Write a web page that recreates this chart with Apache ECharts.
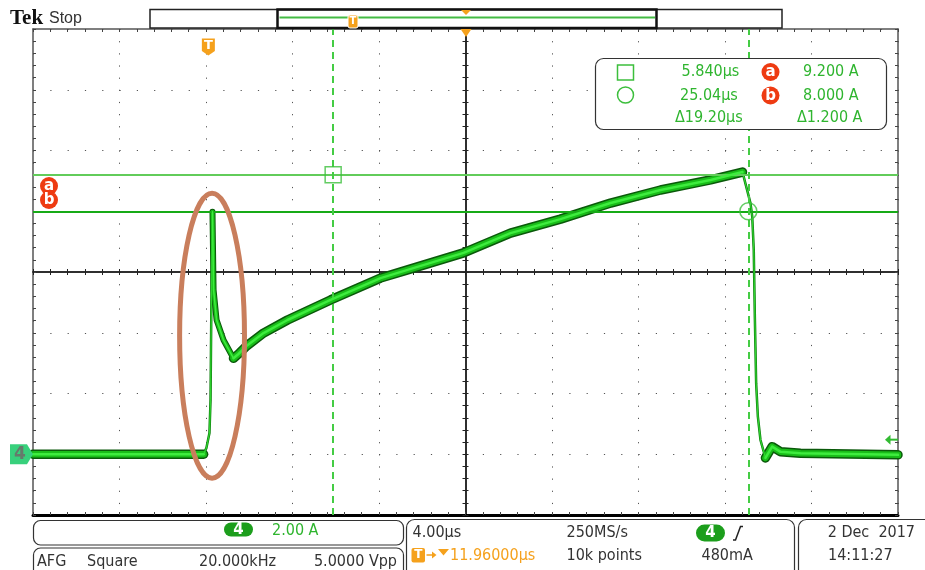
<!DOCTYPE html>
<html>
<head>
<meta charset="utf-8">
<script src="https://cdn.jsdelivr.net/npm/echarts@6/dist/echarts.min.js"></script>
<style>
html,body{margin:0;padding:0;background:#fff;}
#c{width:925px;height:570px;}
</style>
</head>
<body>
<div id="c"></div>
<script>
// ================= DATA =================
// time in µs relative to screen centre (4.00 µs/div), current in A (2.00 A/div)
const timeRange = [-20, 20];
const timeDiv = 4;
const ampRange = [-2, 14];
const ampDiv = 2;
const triggerTime = -11.96;      // trigger point (T marker)
const triggerLevel = 0.48;       // 480mA
const groundLevel = 0;           // channel 4 reference

// waveform segments [time µs, current A]
const traceFlatBefore = [[-20, 0.0], [-16, 0.0], [-12.11, 0.0]];
const traceRiseEdge = [[-12.11, 0.0], [-11.98, 0.21], [-11.84, 0.70], [-11.79, 1.79], [-11.75, 5.08], [-11.70, 7.98]];
const traceSpikeDecay = [[-11.70, 7.98], [-11.65, 5.41], [-11.51, 4.42], [-11.19, 3.76], [-10.73, 3.16]];
const traceRamp = [[-10.73, 3.16], [-10.50, 3.30], [-10.13, 3.56], [-9.34, 3.99], [-8.23, 4.42], [-6.24, 5.08],
                   [-3.93, 5.80], [-2.68, 6.07], [-0.09, 6.63], [2.08, 7.28], [4.39, 7.74], [6.71, 8.27],
                   [9.02, 8.70], [11.33, 9.03], [12.81, 9.29]];
const traceFallEdge = [[12.81, 9.29], [13.18, 8.26], [13.26, 7.82], [13.33, 6.72], [13.38, 4.53], [13.44, 2.34],
                       [13.52, 1.24], [13.64, 0.47], [13.87, -0.12]];
const traceFlatAfter = [[13.87, -0.12], [14.18, 0.25], [14.57, 0.08], [15.49, 0.03], [20, -0.02]];

// cursors
const cursorTimes = [-6.12, 13.08];          // screen time of cursor 1 / 2
const cursorAmps = [9.2, 8.0];               // cursor a / b
const readoutTimes = ['5.840µs', '25.04µs', 'Δ19.20µs'];
const readoutAmps = ['9.200 A', '8.000 A', 'Δ1.200 A'];

// info bar texts
const chanScale = '2.00 A';
const afgTexts = ['AFG', 'Square', '20.000kHz', '5.0000 Vpp'];
const horizTexts = ['4.00µs', '250MS/s', '11.96000µs', '10k points', '480mA'];
const dateTexts = ['2 Dec  2017', '14:11:27'];

// ================= CHART =================
const FONT = '"DejaVu Sans Condensed", "DejaVu Sans", sans-serif';
const GREEN_TXT = '#2fb52f';
const ORANGE = '#f5a11c';
const RED = '#ee3b12';

const tickStyle = {color: '#444', width: 1};
function borderX(pos, lineStyle, split) {
  return {
    type: 'value', min: timeRange[0], max: timeRange[1], interval: timeDiv, position: pos,
    axisLine: {show: true, onZero: false, lineStyle},
    axisTick: {show: true, inside: true, length: 3, lineStyle: tickStyle},
    minorTick: {show: true, splitNumber: 5, length: 3, lineStyle: tickStyle},
    axisLabel: {show: false},
    splitLine: {show: split, lineStyle: {color: '#555', width: 1, type: [1.2, 10.95]}},
    minorSplitLine: {show: false}
  };
}
function borderY(pos, lineStyle, split) {
  return {
    type: 'value', min: ampRange[0], max: ampRange[1], interval: ampDiv, position: pos,
    axisLine: {show: true, onZero: false, lineStyle},
    axisTick: {show: true, inside: true, length: 3, lineStyle: tickStyle},
    minorTick: {show: true, splitNumber: 5, length: 3, lineStyle: tickStyle},
    axisLabel: {show: false},
    splitLine: {show: split, lineStyle: {color: '#555', width: 1, type: [1.2, 16.1]}},
    minorSplitLine: {show: false}
  };
}
function centerX(inside) {
  return {
    type: 'value', min: timeRange[0], max: timeRange[1], interval: timeDiv, position: 'bottom',
    axisLine: {show: true, onZero: true, onZeroAxisIndex: 2, lineStyle: {color: '#222', width: 1.5}},
    axisTick: {show: true, inside, length: 3, lineStyle: {color: '#222', width: 1}},
    minorTick: {show: true, splitNumber: 5, length: 3, lineStyle: {color: '#222', width: 1}},
    axisLabel: {show: false}, splitLine: {show: false}
  };
}
function centerY(inside) {
  return {
    type: 'value', min: ampRange[0], max: ampRange[1], interval: ampDiv, position: 'left',
    axisLine: {show: true, onZero: true, onZeroAxisIndex: 0, lineStyle: {color: '#222', width: 1.5}},
    axisTick: {show: true, inside, length: 3, lineStyle: {color: '#222', width: 1}},
    minorTick: {show: true, splitNumber: 5, length: 3, lineStyle: {color: '#222', width: 1}},
    axisLabel: {show: false}, splitLine: {show: false}
  };
}

function seg(data, width, color, z) {
  return {
    type: 'line', data, xAxisIndex: 0, yAxisIndex: 0, symbol: 'none', silent: true,
    animation: false, z, lineStyle: {width, color, cap: 'round', join: 'round'}
  };
}

const series = [];
[traceFlatBefore, traceRamp, traceFlatAfter].forEach(d => {
  series.push(seg(d, 9.5, '#0a590a', 3));
  series.push(seg(d, 6.5, '#19bd19', 4));
  series.push(seg(d, 2.5, '#3eec3e', 5));
});
[traceSpikeDecay].forEach(d => {
  series.push(seg(d, 6, '#0a590a', 3));
  series.push(seg(d, 4, '#19bd19', 4));
  series.push(seg(d, 1.5, '#3eec3e', 5));
});
[traceRiseEdge, traceFallEdge].forEach(d => {
  series.push(seg(d, 2.5, '#0e7e0e', 3));
  series.push(seg(d, 1.2, '#2fd42f', 4));
});
// cursor lines
series.push({
  type: 'line', data: [], xAxisIndex: 0, yAxisIndex: 0, silent: true, animation: false, z: 1,
  markLine: {
    silent: true, animation: false, symbol: ['none', 'none'], label: {show: false},
    emphasis: {disabled: true},
    data: [
      {yAxis: cursorAmps[0], lineStyle: {color: '#62cc5a', width: 2, type: 'solid'}},
      {yAxis: cursorAmps[1], lineStyle: {color: '#17aa17', width: 2, type: 'solid'}},
      {xAxis: cursorTimes[0], lineStyle: {color: '#44cc44', width: 2, type: [7, 5]}},
      {xAxis: cursorTimes[1], lineStyle: {color: '#44cc44', width: 2, type: [7, 5]}}
    ]
  }
});
// cursor symbols
series.push({
  type: 'scatter', xAxisIndex: 0, yAxisIndex: 0, silent: true, animation: false, z: 6,
  data: [[cursorTimes[0], cursorAmps[0]]], symbol: 'rect', symbolSize: [16, 16],
  itemStyle: {color: 'rgba(0,0,0,0)', borderColor: '#3cbf3c', borderWidth: 1.5}
});
series.push({
  type: 'scatter', xAxisIndex: 0, yAxisIndex: 0, silent: true, animation: false, z: 6,
  data: [[cursorTimes[1], cursorAmps[1]]], symbol: 'circle', symbolSize: 17,
  itemStyle: {color: 'rgba(0,0,0,0)', borderColor: '#3cbf3c', borderWidth: 1.5}
});

const option = {
  animation: false,
  backgroundColor: '#fff',
  grid: {left: 33, top: 29, width: 865, height: 486, containLabel: false},
  xAxis: [
    borderX('bottom', {color: '#000', width: 3}, true),
    borderX('top', {color: '#555', width: 1.5}, false),
    centerX(true),
    centerX(false)
  ],
  yAxis: [
    borderY('left', {color: '#555', width: 1.5}, true),
    borderY('right', {color: '#555', width: 1.5}, false),
    {type: 'value', min: -8, max: 8, show: false, position: 'left'},
    centerY(true),
    centerY(false)
  ],
  series
};

const chart = echarts.init(document.getElementById('c'), null, {renderer: 'canvas'});
chart.setOption(option);

const px = (t, a) => chart.convertToPixel({gridIndex: 0}, [t, a]);

function txt(x, y, text, size, fill, align, weight, family) {
  return {
    type: 'text', x, y, z: 100,
    style: {
      text, fill, font: (weight || 'normal') + ' ' + size + 'px ' + (family || FONT),
      align: align || 'left', textAlign: align || 'left',
      verticalAlign: 'middle', textVerticalAlign: 'middle'
    }
  };
}
function badge(cx, cy, letter) {
  return [
    {type: 'circle', z: 100, shape: {cx, cy, r: 9}, style: {fill: RED}},
    txt(cx, cy + 0.5, letter, 15, '#fff', 'center', 'bold', '"DejaVu Sans", sans-serif')
  ];
}
function pill(x, y, w, h, label) {
  return [
    {type: 'rect', z: 100, shape: {x, y, width: w, height: h, r: h / 2}, style: {fill: '#1c9e1c'}},
    txt(x + w / 2, y + h / 2 + 0.5, label, 15, '#fff', 'center', 'bold', '"DejaVu Sans", sans-serif')
  ];
}
function box(x, y, w, h, r) {
  return {type: 'rect', z: 90, shape: {x, y, width: w, height: h, r}, style: {fill: '#fff', stroke: '#333', lineWidth: 1.2}};
}

const g = [];
// header
g.push(txt(10, 19, 'Tek', 21, '#111', 'left', 'bold', '"Liberation Serif", serif'));
g.push(txt(49, 19, 'Stop', 16, '#333', 'left', 'normal', '"Liberation Sans", sans-serif'));
// record view bar
g.push({type: 'rect', z: 90, shape: {x: 150, y: 9.5, width: 632, height: 18.5}, style: {fill: '#fff', stroke: '#222', lineWidth: 1.5}});
g.push({type: 'rect', z: 91, shape: {x: 277.5, y: 9.5, width: 379, height: 18.5}, style: {fill: 'none', stroke: '#111', lineWidth: 2.5}});
g.push({type: 'line', z: 92, shape: {x1: 279.5, y1: 17.5, x2: 655, y2: 17.5}, style: {stroke: '#44bb44', lineWidth: 2}});
g.push({type: 'rect', z: 93, shape: {x: 348, y: 15, width: 10, height: 13, r: 2}, style: {fill: ORANGE, stroke: '#fff', lineWidth: 1}});
g.push(txt(353, 21.5, 'T', 10, '#fff', 'center', 'bold', '"DejaVu Sans", sans-serif'));
const cTop = px(0, ampRange[1]);
g.push({type: 'polygon', z: 93, shape: {points: [[cTop[0] - 4.5, 10], [cTop[0] + 5.5, 10], [cTop[0] + 0.5, 15]]}, style: {fill: ORANGE}});
// centre (horizontal position) marker on plot top
g.push({type: 'polygon', z: 100, shape: {points: [[cTop[0] - 5, cTop[1]], [cTop[0] + 6, cTop[1]], [cTop[0] + 0.5, cTop[1] + 8]]}, style: {fill: ORANGE}});
// trigger position marker
const tp = px(triggerTime, ampRange[1]);
const tx = tp[0] + 1.5;
g.push({type: 'polygon', z: 100, shape: {points: [[tx - 6.5, 38.5], [tx + 6.5, 38.5], [tx + 6.5, 51], [tx, 55.5], [tx - 6.5, 51]]}, style: {fill: ORANGE}});
g.push(txt(tx, 46, 'T', 13, '#fff', 'center', 'bold', '"DejaVu Sans", sans-serif'));
// channel 4 reference marker
const gy = px(timeRange[0], groundLevel)[1];
g.push({type: 'polygon', z: 100, shape: {points: [[10, gy - 10], [27, gy - 10], [33, gy], [27, gy + 10], [10, gy + 10]], smooth: 0}, style: {fill: '#38d07c'}});
g.push(txt(20, gy, '4', 17, '#667a6c', 'center', 'bold', '"DejaVu Sans", sans-serif'));
// trigger level arrow
const ty = px(timeRange[1], triggerLevel)[1];
g.push({type: 'polygon', z: 100, shape: {points: [[885, ty], [890.5, ty - 5], [890.5, ty + 5]]}, style: {fill: '#33bb33'}});
g.push({type: 'line', z: 100, shape: {x1: 889, y1: ty, x2: 898, y2: ty}, style: {stroke: '#33bb33', lineWidth: 2}});
// cursor badges on the left
g.push(...badge(49, 186, 'a'));
g.push(...badge(49, 200, 'b'));
// highlight ellipse around the turn-on spike
const ellC = px(-11.72, 3.90);
const ellE = px(-11.72 + 1.50, 3.90 + 4.69);
g.push({type: 'ellipse', z: 100, shape: {cx: ellC[0], cy: ellC[1], rx: Math.abs(ellE[0] - ellC[0]), ry: Math.abs(ellE[1] - ellC[1])},
        style: {fill: 'none', stroke: '#c97e5c', lineWidth: 5}});
// measurement readout box
g.push({type: 'rect', z: 95, shape: {x: 595.5, y: 58.5, width: 291, height: 71, r: 8}, style: {fill: '#fff', stroke: '#333', lineWidth: 1.2}});
g.push({type: 'rect', z: 100, shape: {x: 617.5, y: 65, width: 16, height: 15}, style: {fill: 'none', stroke: '#3cbf3c', lineWidth: 1.5}});
g.push({type: 'circle', z: 100, shape: {cx: 625.5, cy: 95, r: 8}, style: {fill: 'none', stroke: '#3cbf3c', lineWidth: 1.5}});
g.push(txt(681.5, 72, readoutTimes[0], 16, GREEN_TXT));
g.push(txt(680, 95.5, readoutTimes[1], 16, GREEN_TXT));
g.push(txt(675, 117.5, readoutTimes[2], 16, GREEN_TXT));
g.push(...badge(770.5, 72, 'a'));
g.push(...badge(770.5, 95.5, 'b'));
g.push(txt(803, 72, readoutAmps[0], 16, GREEN_TXT));
g.push(txt(803, 95.5, readoutAmps[1], 16, GREEN_TXT));
g.push(txt(797, 117.5, readoutAmps[2], 16, GREEN_TXT));
// bottom info boxes
g.push(box(33.5, 520.5, 370, 24.5, 7));
g.push(...pill(224, 522.5, 29, 14, '4'));
g.push(txt(272, 530.5, chanScale, 16, GREEN_TXT));
g.push(box(33.5, 548, 370, 30, 7));
g.push(txt(37, 561.5, afgTexts[0], 16, '#333'));
g.push(txt(87, 561.5, afgTexts[1], 16, '#333'));
g.push(txt(199, 561.5, afgTexts[2], 16, '#333'));
g.push(txt(397, 561.5, afgTexts[3], 16, '#333', 'right'));
g.push(box(406.5, 519.5, 388, 60, 8));
g.push(txt(412.5, 533, horizTexts[0], 16, '#333'));
g.push(txt(566.5, 533, horizTexts[1], 16, '#333'));
g.push(...pill(696, 524.5, 29, 17, '4'));
g.push({type: 'polyline', z: 100, shape: {points: [[733, 540], [735.5, 540], [740.5, 526.5], [743, 526.5]]}, style: {fill: 'none', stroke: '#222', lineWidth: 1.5}});
g.push({type: 'rect', z: 100, shape: {x: 411.5, y: 548, width: 13.5, height: 14.5, r: 2}, style: {fill: ORANGE}});
g.push(txt(418.3, 555.3, 'T', 12, '#fff', 'center', 'bold', '"DejaVu Sans", sans-serif'));
g.push({type: 'line', z: 100, shape: {x1: 426.5, y1: 555, x2: 433, y2: 555}, style: {stroke: ORANGE, lineWidth: 1.5}});
g.push({type: 'polygon', z: 100, shape: {points: [[432, 551.5], [436.5, 555], [432, 558.5]]}, style: {fill: ORANGE}});
g.push({type: 'polygon', z: 100, shape: {points: [[438, 549], [449, 549], [443.5, 555.5]]}, style: {fill: ORANGE}});
g.push(txt(450, 555.5, horizTexts[2], 16, ORANGE));
g.push(txt(566.5, 555.5, horizTexts[3], 16, '#333'));
g.push(txt(701.5, 555.5, horizTexts[4], 16, '#333'));
g.push(box(798.5, 519.5, 140, 60, 8));
g.push(txt(915, 533, dateTexts[0], 16, '#333', 'right'));
g.push(txt(828, 555.5, dateTexts[1], 16, '#333'));

chart.setOption({graphic: {elements: g}});
</script>
</body>
</html>
